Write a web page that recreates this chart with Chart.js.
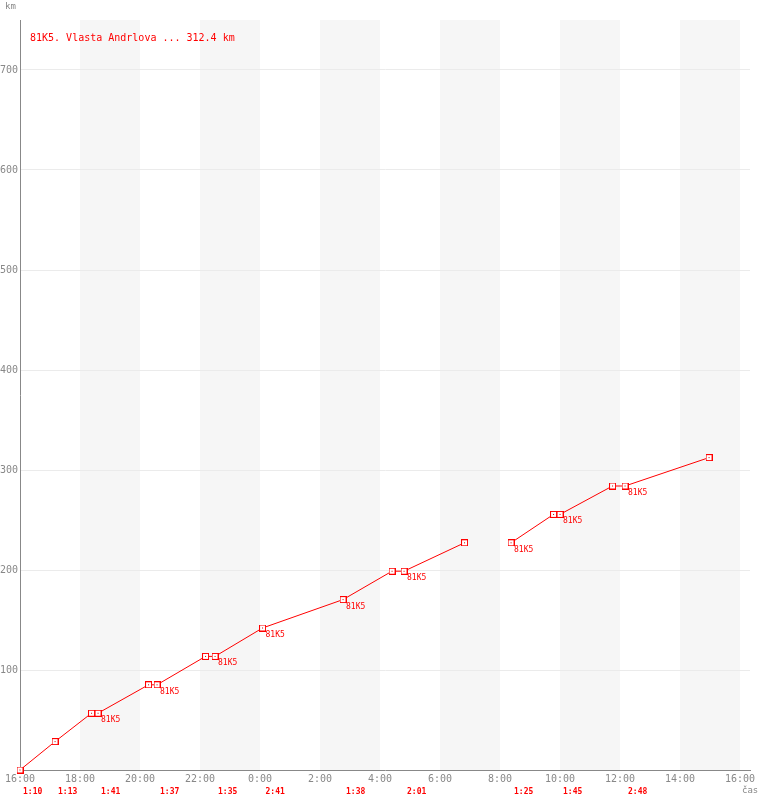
<!DOCTYPE html>
<html>
<head>
<meta charset="utf-8">
<script src="https://cdn.jsdelivr.net/npm/chart.js@4/dist/chart.umd.min.js"></script>
<style>
  html, body { margin: 0; padding: 0; background: #fff; }
  canvas { display: block; }
</style>
</head>
<body>
<canvas id="chart" width="760" height="800"></canvas>
<script>
// data: times of each check point, distance in km
var times = ["16:00", "17:10", "18:23", "18:36", "20:17", "20:34", "22:11", "22:30", "0:05", "2:46",
             "4:24", "4:48", "6:49", null, "8:22", "9:47", "10:00", "11:45", "12:10", "14:58"]
var km = [0, 28.4, 56.8, 56.8, 85.2, 85.2, 113.6, 113.6, 142, 170.4,
          198.8, 198.8, 227.2, null, 227.2, 255.6, 255.6, 284, 284, 312.4]
// which points get the "81K5" tag
var tagged = [3, 5, 7, 8, 9, 11, 14, 16, 18]
var tagText = "81K5"

// leg durations printed under the axis, at leg start time
var legStart = ["16:00", "17:10", "18:36", "20:34", "22:30", "0:05", "2:46", "4:48", "8:22", "10:00", "12:10"]
var legTime = ["1:10", "1:13", "1:41", "1:37", "1:35", "2:41", "1:38", "2:01", "1:25", "1:45", "2:48"]

var xTicks = [0, 2, 4, 6, 8, 10, 12, 14, 16, 18, 20, 22, 24]
var xTickLabels = ["16:00", "18:00", "20:00", "22:00", "0:00", "2:00", "4:00", "6:00", "8:00", "10:00", "12:00", "14:00", "16:00"]
var yTicks = [100, 200, 300, 400, 500, 600, 700]

var title = "81K5. Vlasta Andrlova ... 312.4 km"

function toHours(t) {
    var p = t.split(":")
    var h = parseInt(p[0]) + parseInt(p[1]) / 60 - 16
    if (h < 0) h += 24
    return h
}

var points = times.map((t, i) => t === null ? { x: 19, y: null } : { x: toHours(t), y: km[i] })
// the gap point needs an x between its neighbours
points[13].x = (toHours(times[12]) + toHours(times[14])) / 2

var mono = "'DejaVu Sans Mono', 'Liberation Mono', monospace"

// little square marker with a dot in the middle
var marker = document.createElement("canvas")
marker.width = 7
marker.height = 7
var mctx = marker.getContext("2d")
mctx.fillStyle = "#fff"
mctx.fillRect(0, 0, 7, 7)
mctx.strokeStyle = "#ff0000"
mctx.lineWidth = 1
mctx.strokeRect(0.5, 0.5, 6, 6)
mctx.fillStyle = "#cc0000"
mctx.fillRect(3, 3, 1, 1)

var extras = {
    id: "extras",
    beforeDraw(chart) {
        var ctx = chart.ctx
        var xs = chart.scales.x
        var a = chart.chartArea
        ctx.save()
        ctx.fillStyle = "#f6f6f6"
        for (var h = 2; h < 24; h += 4) {
            var x0 = xs.getPixelForValue(h)
            var x1 = xs.getPixelForValue(h + 2)
            ctx.fillRect(x0, a.top, x1 - x0, a.bottom - a.top)
        }
        ctx.restore()
    },
    afterDatasetsDraw(chart) {
        var ctx = chart.ctx
        var xs = chart.scales.x
        var ys = chart.scales.y
        var a = chart.chartArea
        ctx.save()
        ctx.fillStyle = "#ff0000"
        ctx.textBaseline = "top"
        ctx.textAlign = "left"

        ctx.font = "10px " + mono
        ctx.fillText(title, a.left + 10, 33)

        ctx.font = "8px " + mono
        tagged.forEach(i => {
            var p = points[i]
            ctx.fillText(tagText, xs.getPixelForValue(p.x) + 3, ys.getPixelForValue(p.y) + 3)
        })

        ctx.font = "bold 8px " + mono
        legStart.forEach((t, i) => {
            ctx.fillText(legTime[i], xs.getPixelForValue(toHours(t)) + 3, 788)
        })

        ctx.fillStyle = "#888"
        ctx.font = "9px " + mono
        ctx.fillText("km", 5, 2)
        ctx.fillText("čas", 742, 786)
        ctx.restore()
    }
}

new Chart(document.getElementById("chart"), {
    type: "line",
    data: {
        datasets: [{
            data: points,
            borderColor: "#ff0000",
            borderWidth: 1,
            pointStyle: marker,
            pointRadius: 3.5,
            pointHoverRadius: 3.5,
            tension: 0,
            spanGaps: false,
            clip: false,
        }]
    },
    options: {
        responsive: false,
        animation: false,
        events: [],
        layout: { padding: { top: 20, right: 10, left: 0, bottom: 0 } },
        plugins: { legend: { display: false }, tooltip: { enabled: false } },
        scales: {
            x: {
                type: "linear",
                min: 0,
                max: 24.333,
                afterBuildTicks: s => { s.ticks = xTicks.map(v => ({ value: v })) },
                afterFit: s => { s.height = 30 },
                grid: { display: false, drawTicks: false },
                border: { color: "#888", width: 1 },
                ticks: {
                    autoSkip: false,
                    maxRotation: 0,
                    padding: 3,
                    color: "#888",
                    font: { family: mono, size: 10 },
                    callback: (v, i) => xTickLabels[i]
                }
            },
            y: {
                min: 0,
                max: 750,
                afterBuildTicks: s => { s.ticks = yTicks.map(v => ({ value: v })) },
                afterFit: s => { s.width = 20 },
                grid: { color: "#ebebeb", drawTicks: false },
                border: { color: "#888", width: 1 },
                ticks: {
                    padding: 2,
                    color: "#888",
                    font: { family: mono, size: 10 }
                }
            }
        }
    },
    plugins: [extras]
})
</script>
</body>
</html>
